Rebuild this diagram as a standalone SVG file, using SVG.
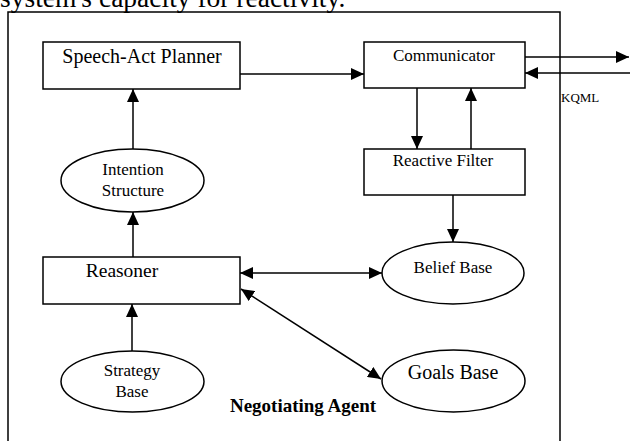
<svg xmlns="http://www.w3.org/2000/svg" width="630" height="441" viewBox="0 0 630 441">
<defs>
<marker id="ah" markerUnits="userSpaceOnUse" markerWidth="13" markerHeight="12" refX="13" refY="6" orient="auto-start-reverse" viewBox="0 0 13 12">
<path d="M0,0 L13,6 L0,12 z" fill="#000"/>
</marker>
</defs>
<style>
.box{fill:#fff;stroke:#000;stroke-width:1.5}
.t{font-family:"Liberation Serif","Times New Roman",serif;fill:#000;text-anchor:middle}
.c{fill:none;stroke:#000;stroke-width:1.5;marker-end:url(#ah)}
.b{marker-start:url(#ah)}
</style>
<rect width="630" height="441" fill="#fff"/>
<text x="0" y="7" style="font-family:'Liberation Serif',serif;font-size:27.5px">system's capacity for reactivity.</text>
<path d="M8,445 V12 H560 V445" fill="none" stroke="#000" stroke-width="1.5"/>
<g id="connectors">
<line class="c" x1="240" y1="74" x2="364" y2="74"/>
<line class="c" x1="525" y1="57" x2="629" y2="57"/>
<line class="c" x1="630" y1="73" x2="525" y2="73"/>
<line class="c" x1="417" y1="88" x2="417" y2="149"/>
<line class="c" x1="471" y1="149" x2="471" y2="88"/>
<line class="c" x1="453" y1="195" x2="453" y2="242"/>
<line class="c" x1="133" y1="149" x2="133" y2="89"/>
<line class="c" x1="133" y1="257" x2="133" y2="212"/>
<line class="c" x1="132" y1="351" x2="132" y2="304"/>
<line class="c b" x1="240" y1="273" x2="382" y2="273"/>
<line class="c b" x1="241" y1="289" x2="381" y2="379"/>
</g>
<g id="speech-act-planner">
<rect class="box" x="43" y="42" width="197" height="47"/>
<text class="t" x="142" y="63" font-size="20">Speech-Act Planner</text>
</g>
<g id="communicator">
<rect class="box" x="364" y="42" width="161" height="46"/>
<text class="t" x="444" y="61" font-size="17">Communicator</text>
</g>
<g id="kqml">
<text x="561" y="102" style="font-family:'Liberation Serif',serif;font-size:13px">KQML</text>
</g>
<g id="reactive-filter">
<rect class="box" x="364" y="149" width="161" height="46"/>
<text class="t" x="443" y="166" font-size="17">Reactive Filter</text>
</g>
<g id="intention-structure">
<ellipse class="box" cx="132.5" cy="180.5" rx="71.5" ry="31.5"/>
<text class="t" x="133" y="175" font-size="17">Intention</text>
<text class="t" x="133" y="196" font-size="17">Structure</text>
</g>
<g id="reasoner">
<rect class="box" x="43" y="257" width="197" height="47"/>
<text class="t" x="122" y="277" font-size="19.5">Reasoner</text>
</g>
<g id="belief-base">
<ellipse class="box" cx="453" cy="273" rx="71" ry="31"/>
<text class="t" x="453" y="273" font-size="17">Belief Base</text>
</g>
<g id="strategy-base">
<ellipse class="box" cx="132.5" cy="381.5" rx="71.5" ry="30.5"/>
<text class="t" x="132" y="376" font-size="17">Strategy</text>
<text class="t" x="132" y="397" font-size="17">Base</text>
</g>
<g id="goals-base">
<ellipse class="box" cx="453.5" cy="381" rx="71.5" ry="31"/>
<text class="t" x="453" y="379" font-size="20">Goals Base</text>
</g>
<g id="label">
<text class="t" x="303" y="412" font-size="19" font-weight="bold">Negotiating Agent</text>
</g>
</svg>
